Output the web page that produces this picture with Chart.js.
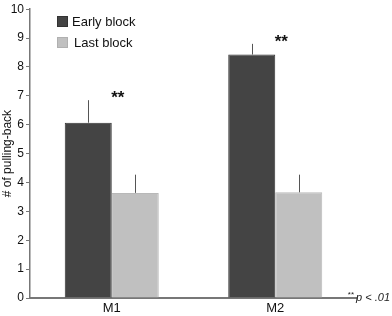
<!DOCTYPE html>
<html>
<head>
<meta charset="utf-8">
<script src="https://cdn.jsdelivr.net/npm/chart.js@4"></script>
<style>
  html, body { margin: 0; padding: 0; background: #fff; }
  #wrap { width: 392px; height: 316px; }
</style>
</head>
<body>
<div id="wrap"><canvas id="chart"></canvas></div>
<script>
// values
const categories = ['M1', 'M2'];
const earlyBlock = [6.07, 8.43];
const earlyErr = [0.78, 0.37];
const lastBlock = [3.64, 3.66];
const lastErr = [0.63, 0.61];
const sigLabels = ['**', '**'];
const yTicks = [0, 1, 2, 3, 4, 5, 6, 7, 8, 9, 10];

const FONT = "'Liberation Sans', Arial, sans-serif";
const DARK = '#444444';
const LIGHT = '#c0c0c0';

// draws the upward error lines and the ** marks
const errorBars = {
  id: 'errorBars',
  afterDatasetsDraw(chart) {
    const ctx = chart.ctx;
    const y = chart.scales.y;
    const errs = [earlyErr, lastErr];
    ctx.save();
    ctx.strokeStyle = '#555';
    ctx.lineWidth = 1;
    chart.data.datasets.forEach((ds, di) => {
      const meta = chart.getDatasetMeta(di);
      meta.data.forEach((bar, i) => {
        const x = Math.round(bar.x) + 0.5;
        ctx.beginPath();
        ctx.moveTo(x, y.getPixelForValue(ds.data[i]));
        ctx.lineTo(x, y.getPixelForValue(ds.data[i] + errs[di][i]));
        ctx.stroke();
      });
    });
    // significance stars above the early block
    ctx.fillStyle = '#111';
    ctx.font = 'bold 17px ' + FONT;
    ctx.textAlign = 'center';
    ctx.textBaseline = 'middle';
    const xs = chart.scales.x;
    sigLabels.forEach((s, i) => {
      const top = y.getPixelForValue(earlyBlock[i] + earlyErr[i]);
      ctx.fillText(s, xs.getPixelForValue(i) + 6, top - 2);
    });
    ctx.restore();
  }
};

// legend inside the plot and the p-value note
const extras = {
  id: 'extras',
  afterDraw(chart) {
    const ctx = chart.ctx;
    ctx.save();
    const items = [['Early block', DARK, '#333'], ['Last block', LIGHT, '#b0b0b0']];
    items.forEach((it, i) => {
      const top = 16 + i * 21;
      ctx.fillStyle = it[1];
      ctx.fillRect(57, top, 11, 11);
      ctx.strokeStyle = it[2];
      ctx.lineWidth = 1;
      ctx.strokeRect(57.5, top + 0.5, 10, 10);
      ctx.fillStyle = '#111';
      ctx.font = '13px ' + FONT;
      ctx.textAlign = 'left';
      ctx.textBaseline = 'middle';
      ctx.fillText(it[0], i === 0 ? 72 : 74, top + 6);
    });
    ctx.fillStyle = '#222';
    ctx.textAlign = 'right';
    ctx.textBaseline = 'middle';
    ctx.font = 'italic 11px ' + FONT;
    ctx.fillText('p < .01', 390, 298);
    const w = ctx.measureText('p < .01').width;
    ctx.font = '8px ' + FONT;
    ctx.fillText('**', 388 - w, 295);
    ctx.restore();
  }
};

new Chart(document.getElementById('chart'), {
  type: 'bar',
  data: {
    labels: categories,
    datasets: [{
      label: 'Early block',
      data: earlyBlock,
      backgroundColor: DARK,
      borderColor: '#333',
      borderWidth: 1
    }, {
      label: 'Last block',
      data: lastBlock,
      backgroundColor: LIGHT,
      borderColor: '#b8b8b8',
      borderWidth: 1
    }]
  },
  options: {
    responsive: true,
    maintainAspectRatio: false,
    animation: false,
    layout: { padding: { top: 6, right: 35, bottom: 0, left: 0 } },
    datasets: { bar: { barPercentage: 1.0, categoryPercentage: 0.575 } },
    plugins: {
      legend: { display: false },
      tooltip: { enabled: false }
    },
    scales: {
      x: {
        grid: { display: false, drawTicks: false },
        border: { color: '#777', width: 2 },
        ticks: { color: '#111', font: { family: FONT, size: 13 }, padding: 3 },
        afterFit(scale) { scale.height = 18; }
      },
      y: {
        min: 0,
        max: 10,
        afterBuildTicks(scale) { scale.ticks = yTicks.map(v => ({ value: v })); },
        grid: { drawOnChartArea: false, tickLength: 4, color: '#777' },
        border: { color: '#777', width: 1.5 },
        ticks: { color: '#111', font: { family: FONT, size: 12 }, padding: 2 },
        title: {
          display: true,
          text: '# of pulling-back',
          color: '#111',
          font: { family: FONT, size: 12 },
          padding: 0
        },
        afterFit(scale) { scale.width = 30; }
      }
    }
  },
  plugins: [errorBars, extras]
});
</script>
</body>
</html>
